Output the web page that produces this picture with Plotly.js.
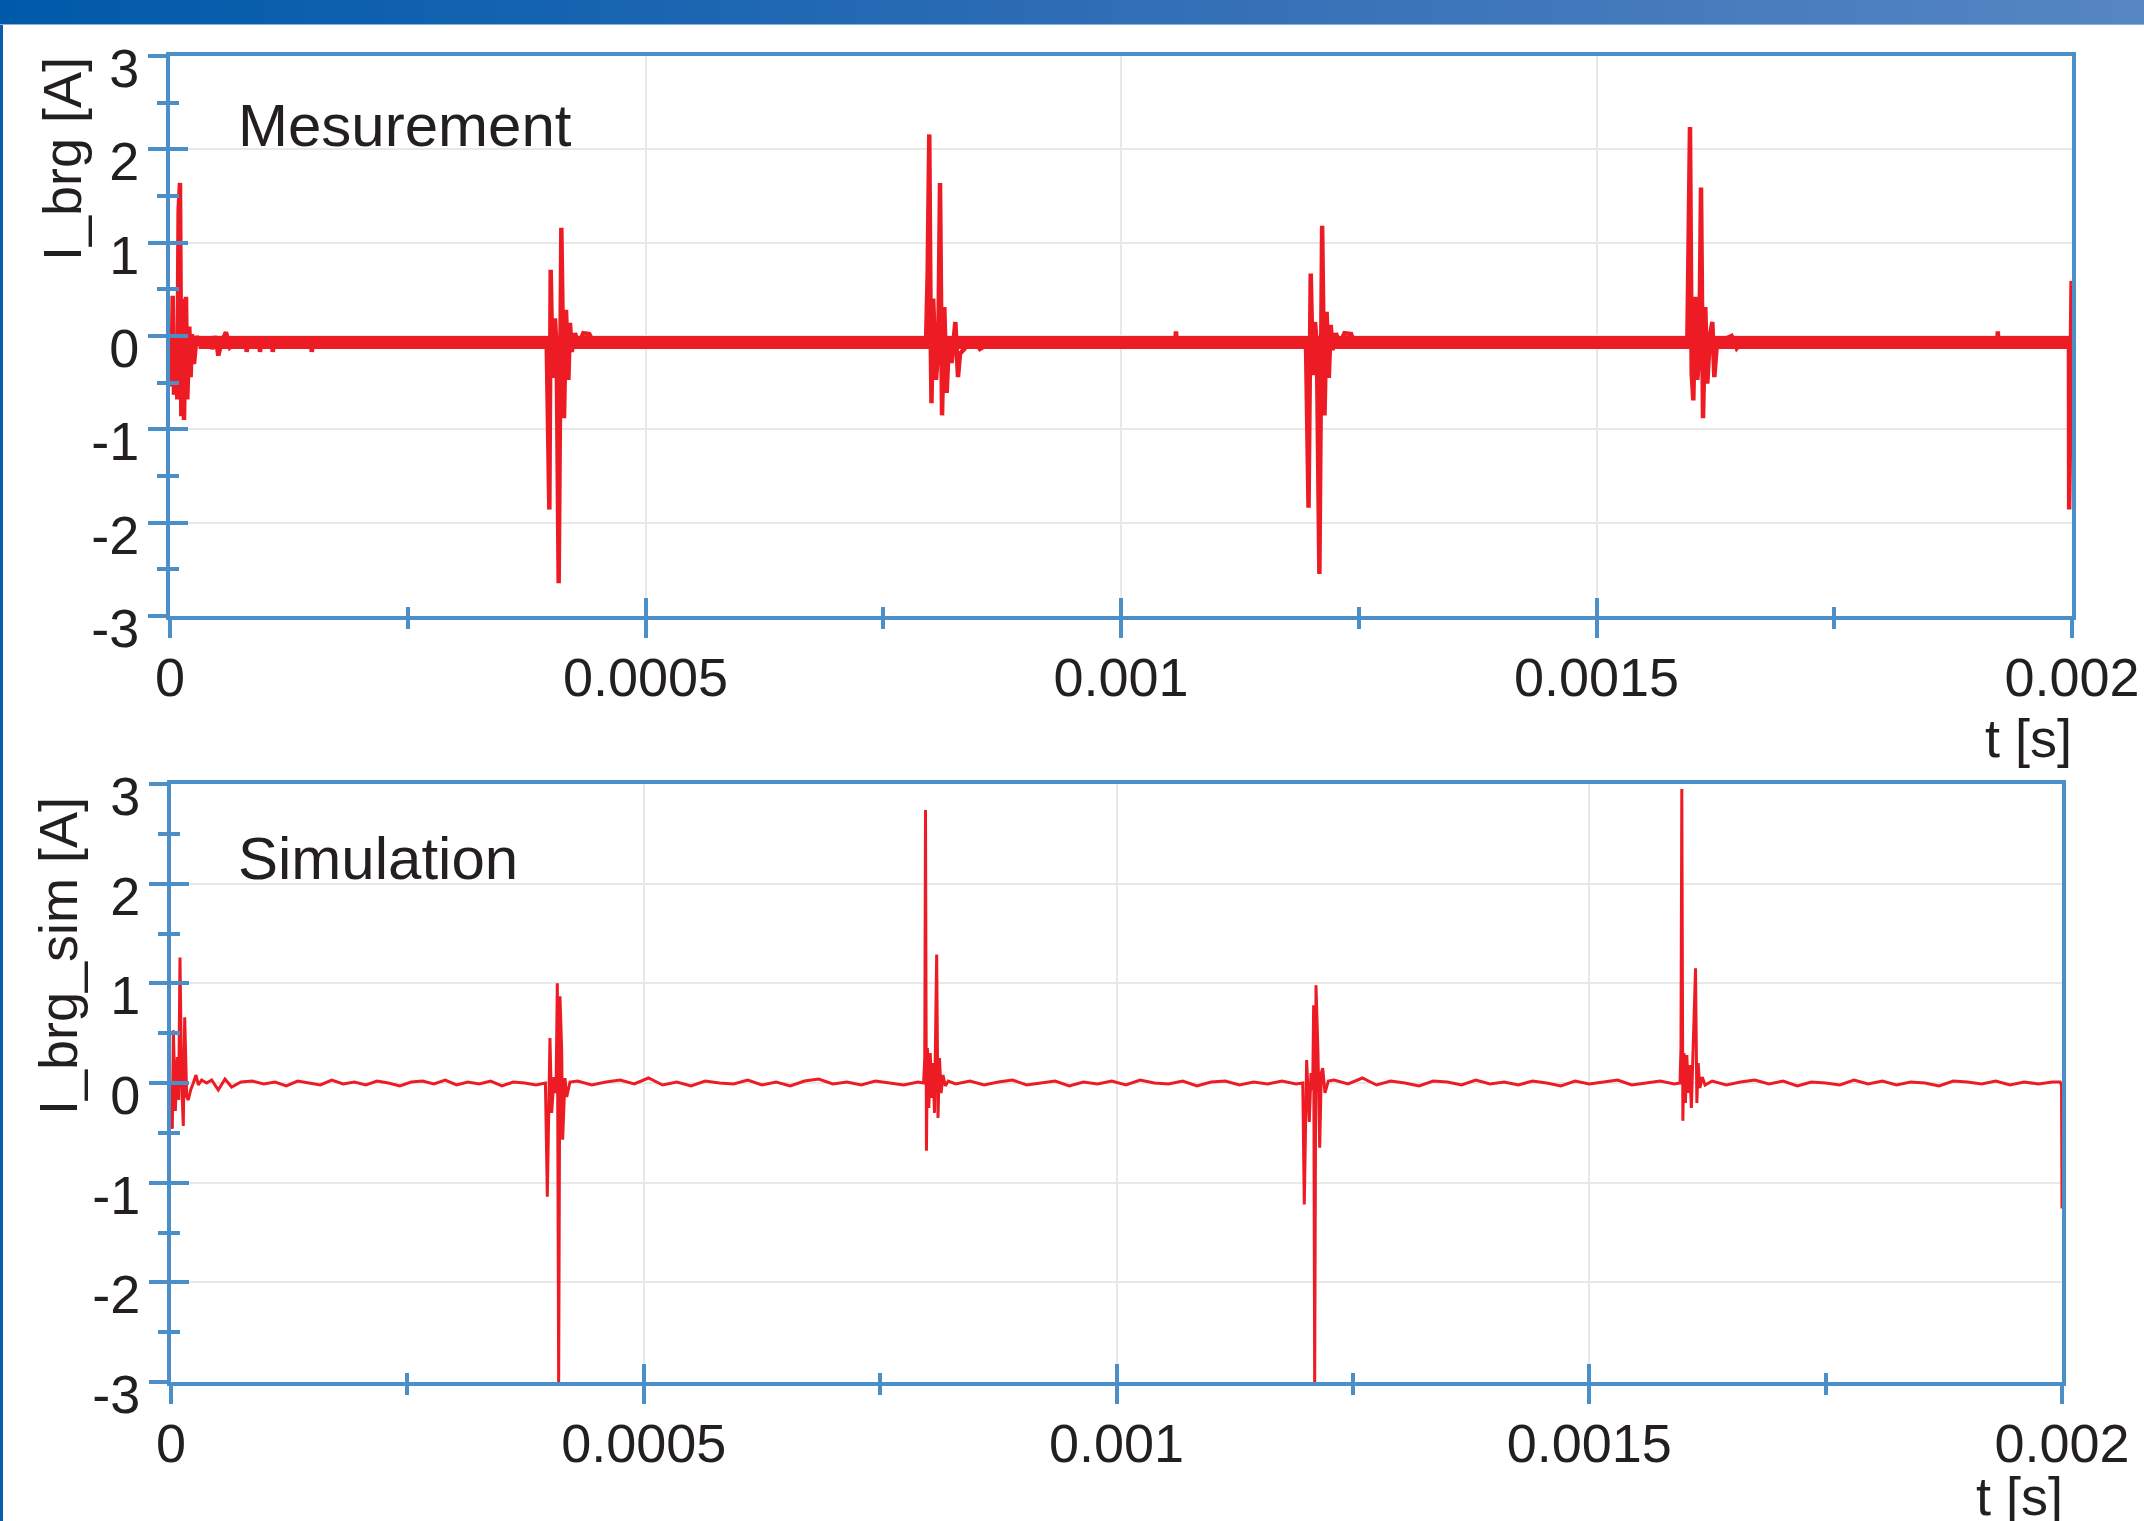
<!DOCTYPE html>
<html>
<head>
<meta charset="utf-8">
<script src="https://cdn.plot.ly/plotly-3.0.1.min.js"></script>
<style>
html,body{margin:0;padding:0;background:#fff;overflow:hidden;}
#chart{width:2144px;height:1521px;}
#banner{position:absolute;left:0;top:0;width:2144px;height:24px;background:linear-gradient(to right,#005AA9 0%,#1463B0 25%,#336FB6 55%,#5686C3 100%);border-bottom:1px solid #8DB0DA;z-index:5;}
#leftbar{position:absolute;left:0;top:25px;width:3px;height:1496px;background:#0A5DAB;z-index:5;}
</style>
</head>
<body>
<div id="banner"></div><div id="leftbar"></div>
<div id="chart"></div>
<script>
// ---------------- DATA ----------------
// Measured bearing current (top panel), t in seconds, I in A
const tMeas = [
  0, 0.0000017, 0.0000028, 0.0000042, 0.0000063, 0.0000077, 0.0000091, 0.0000105, 0.0000119, 0.0000133,
  0.0000147, 0.0000168, 0.0000182, 0.0000203, 0.0000217, 0.0000231, 0.0000252, 0.0000280, 0.0000315, 0.0000350,
  0.0000386, 0.0000420, 0.0000450, 0.0000480, 0.0000508, 0.0000543, 0.0000589, 0.0000630, 0.0000700, 0.0000800,
  0.0000806, 0.0000820, 0.0000940, 0.0000946, 0.0000960, 0.0001074, 0.0001080, 0.0001095, 0.0001484, 0.0001490,
  0.0001505,
  0.0003961, 0.0003989, 0.0004003, 0.0004024, 0.0004048, 0.0004066, 0.0004087, 0.0004115, 0.0004143, 0.0004164,
  0.0004189, 0.0004206, 0.0004224, 0.0004259, 0.0004294, 0.0004346, 0.0004409, 0.0004450,
  0.0007950, 0.0007967, 0.0007984, 0.0007999, 0.0008007, 0.0008025, 0.0008055, 0.0008079, 0.0008097, 0.0008118,
  0.0008142, 0.0008167, 0.0008191, 0.0008219, 0.0008258, 0.0008286, 0.0008307, 0.0008377, 0.0008447, 0.0008517,
  0.0008657, 0.0008700,
  0.0010570, 0.0010578, 0.0010586,
  0.0011945, 0.0011972, 0.0011995, 0.0012018, 0.0012040, 0.0012060, 0.0012086, 0.0012115, 0.0012140, 0.0012162,
  0.0012185, 0.0012205, 0.0012225, 0.0012260, 0.0012300, 0.0012350, 0.0012420, 0.0012450,
  0.0015955, 0.0015966, 0.0015983, 0.0016001, 0.0016018, 0.0016039, 0.0016060, 0.0016081, 0.0016099, 0.0016120,
  0.0016144, 0.0016165, 0.0016193, 0.0016218, 0.0016239, 0.0016264, 0.0016334, 0.0016421, 0.0016474, 0.0016544,
  0.0016600,
  0.0019215, 0.0019220, 0.0019225,
  0.0019968, 0.0019970, 0.0019996, 0.0020000
];
const iMeas = [
  -0.05, -0.54, 0.43, -0.63, -0.05, -0.68, 1.35, 1.64, -0.86, 0.40,
  -0.90, 0.42, -0.68, 0.10, -0.44, 0.02, -0.30, 0.00, -0.10, -0.02,
  -0.12, -0.04, -0.14, 0.00, -0.21, -0.06, 0.04, -0.12, -0.05, -0.07,
  -0.17, -0.07, -0.07, -0.17, -0.07, -0.07, -0.17, -0.07, -0.07, -0.17,
  -0.07,
  -0.07, -1.86, 0.71, -0.45, 0.19, -0.14, -2.65, 1.16, -0.88, 0.28,
  -0.47, 0.14, -0.17, 0.03, -0.10, 0.03, 0.02, -0.07,
  -0.07, 0.67, 2.16, 0.00, -0.72, 0.40, -0.47, -0.11, 1.64, -0.85,
  0.31, -0.61, -0.04, -0.29, 0.15, -0.44, -0.19, -0.11, -0.04, -0.14,
  -0.05, -0.07,
  -0.07, 0.05, -0.07,
  -0.07, -1.84, 0.67, -0.42, 0.15, -0.12, -2.55, 1.18, -0.85, 0.26,
  -0.45, 0.12, -0.15, 0.03, -0.09, 0.03, 0.02, -0.07,
  -0.07, 0.81, 2.24, -0.40, -0.69, 0.42, -0.47, -0.19, 1.59, -0.88,
  0.31, -0.51, 0.00, 0.15, -0.44, -0.11, -0.04, 0.00, -0.13, -0.04,
  -0.07,
  -0.07, 0.05, -0.07,
  -0.07, -1.86, 0.59, 0.55
];
// Dense measurement noise band (envelope of the fast ripple)
const tBand = [0.000030, 0.0019968];
const bandHi = [0.00, 0.00];
const bandLo = [-0.14, -0.14];

// Simulated bearing current (bottom panel)
const tSim = [
  0, 0.0000014, 0.0000025, 0.0000046, 0.0000067, 0.0000081, 0.0000095, 0.0000113, 0.0000130, 0.0000145,
  0.0000166, 0.0000183, 0.0000208, 0.0000236, 0.0000264, 0.0000289, 0.0000324, 0.0000377, 0.0000430, 0.0000500,
  0.0000571, 0.0000641, 0.0000740,
  0.000086, 0.000098, 0.000110, 0.000122, 0.000134, 0.000146, 0.000158, 0.000170, 0.000182, 0.000194,
  0.000206, 0.000218, 0.000230, 0.000242, 0.000254, 0.000266, 0.000278, 0.000290, 0.000302, 0.000314,
  0.000326, 0.000338, 0.000350, 0.000362, 0.000374, 0.000386,
  0.0003960, 0.0003980, 0.0004008, 0.0004026, 0.0004051, 0.0004072, 0.0004086, 0.0004100, 0.0004114, 0.0004132,
  0.0004142, 0.0004167, 0.0004185, 0.0004220,
  0.000430, 0.000445, 0.000460, 0.000475, 0.000490, 0.000505, 0.000520, 0.000535, 0.000550, 0.000565,
  0.000580, 0.000595, 0.000610, 0.000625, 0.000640, 0.000655, 0.000670, 0.000685, 0.000700, 0.000715,
  0.000730, 0.000745, 0.000760, 0.000775, 0.000790,
  0.0007960, 0.0007972, 0.0007980, 0.0007990, 0.0008000, 0.0008015, 0.0008030, 0.0008045, 0.0008060, 0.0008075,
  0.0008098, 0.0008112, 0.0008128, 0.0008145, 0.0008165, 0.0008190, 0.0008220,
  0.000830, 0.000845, 0.000860, 0.000875, 0.000890, 0.000905, 0.000920, 0.000935, 0.000950, 0.000965,
  0.000980, 0.000995, 0.001010, 0.001025, 0.001040, 0.001055, 0.001070, 0.001085, 0.001100, 0.001115,
  0.001130, 0.001145, 0.001160, 0.001175, 0.001190,
  0.0011970, 0.0011986, 0.0012011, 0.0012039, 0.0012057, 0.0012075, 0.0012085, 0.0012096, 0.0012110, 0.0012131,
  0.0012149, 0.0012166, 0.0012181, 0.0012205, 0.0012240,
  0.001230, 0.001245, 0.001260, 0.001275, 0.001290, 0.001305, 0.001320, 0.001335, 0.001350, 0.001365,
  0.001380, 0.001395, 0.001410, 0.001425, 0.001440, 0.001455, 0.001470, 0.001485, 0.001500, 0.001515,
  0.001530, 0.001545, 0.001560, 0.001575, 0.001590,
  0.0015960, 0.0015970, 0.0015979, 0.0015990, 0.0016002, 0.0016017, 0.0016032, 0.0016047, 0.0016062, 0.0016080,
  0.0016124, 0.0016138, 0.0016152, 0.0016170, 0.0016195, 0.0016225,
  0.001630, 0.001645, 0.001660, 0.001675, 0.001690, 0.001705, 0.001720, 0.001735, 0.001750, 0.001765,
  0.001780, 0.001795, 0.001810, 0.001825, 0.001840, 0.001855, 0.001870, 0.001885, 0.001900, 0.001915,
  0.001930, 0.001945, 0.001960, 0.001975, 0.001990,
  0.0019980, 0.0019995, 0.0020000
];
const iSim = [
  0.00, -0.46, 0.53, -0.28, 0.26, -0.17, 1.26, 0.00, -0.43, 0.66,
  -0.14, -0.17, -0.07, 0.00, 0.08, -0.02, 0.03, 0.00, 0.03, -0.07,
  0.04, -0.04, 0.01,
  0.02, -0.01, 0.01, -0.03, 0.02, 0.00, -0.02, 0.03, -0.01, 0.01,
  -0.02, 0.02, 0.00, -0.03, 0.01, 0.02, -0.01, 0.03, -0.02, 0.01,
  -0.01, 0.02, -0.03, 0.01, 0.00, -0.02,
  0.00, -1.14, 0.45, -0.30, 0.06, -0.10, 1.00, -3.05, 0.87, 0.33,
  -0.57, 0.05, -0.14, 0.01,
  0.02, -0.02, 0.01, 0.03, -0.01, 0.05, -0.02, 0.01, -0.03, 0.02,
  0.00, -0.01, 0.03, -0.02, 0.01, -0.03, 0.02, 0.04, -0.01, 0.01,
  -0.02, 0.02, 0.00, -0.02, 0.01,
  0.00, 0.25, 2.74, -0.68, 0.35, -0.25, 0.30, -0.15, 0.20, -0.30,
  1.29, -0.35, 0.25, -0.10, 0.08, -0.03, 0.02,
  -0.01, 0.02, -0.02, 0.01, 0.03, -0.02, 0.00, 0.02, -0.03, 0.01,
  -0.01, 0.02, -0.02, 0.03, 0.00, -0.01, 0.02, -0.03, 0.01, 0.02,
  -0.02, 0.01, -0.01, 0.02, -0.01,
  0.00, -1.22, 0.23, -0.39, 0.10, -0.07, 0.78, -3.05, 0.98, 0.30,
  -0.65, 0.10, 0.15, -0.10, 0.02,
  0.03, -0.01, 0.05, -0.02, 0.02, 0.00, -0.03, 0.02, 0.01, -0.02,
  0.03, -0.01, 0.01, -0.02, 0.02, 0.00, -0.03, 0.02, -0.01, 0.01,
  0.03, -0.02, 0.00, 0.02, -0.01,
  0.00, 0.35, 2.95, -0.38, 0.30, -0.20, 0.28, -0.10, 0.18, -0.25,
  1.15, -0.20, 0.20, -0.05, 0.06, -0.02,
  0.02, -0.02, 0.01, 0.03, -0.01, 0.02, -0.03, 0.01, 0.00, -0.02,
  0.03, -0.01, 0.02, -0.02, 0.01, 0.00, -0.03, 0.02, 0.01, -0.01,
  0.02, -0.02, 0.01, -0.01, 0.01,
  0.01, -0.02, -1.26
];

// Axis ticks and labels
const xTickVals = [0, 0.0005, 0.001, 0.0015, 0.002];
const xTickText = ['0', '0.0005', '0.001', '0.0015', '0.002'];
const xMinorVals = [0.00025, 0.00075, 0.00125, 0.00175];
const yTickVals = [-3, -2, -1, 0, 1, 2, 3];
const yTickText = ['-3', '-2', '-1', '0', '1', '2', '3'];
const yMinorVals = [-2.5, -1.5, -0.5, 0.5, 1.5, 2.5];

const panelLabels = ['Mesurement', 'Simulation'];
const yTitles = ['I_brg [A]', 'I_brg_sim [A]'];
const xTitle = 't [s]';

// ---------------- STYLE ----------------
const W = 2144, H = 1521;
const RED = '#ED1C24';
const AX = '#4A8FC8';
const TXT = '#231F20';
const FONT = 'Liberation Sans, Arial, Helvetica, sans-serif';
const px = v => v / W;
const py = v => 1 - v / H;

const topDomX = [px(170), px(2072)], topDomY = [py(616), py(56)];
const botDomX = [px(171), px(2062)], botDomY = [py(1382), py(784)];

function mainX(domain, anchor) {
  return {
    domain: domain, anchor: anchor, range: [0, 0.002], fixedrange: true,
    tickmode: 'array', tickvals: xTickVals, ticktext: xTickText,
    ticks: 'outside', ticklen: 18, tickwidth: 4, tickcolor: AX,
    showline: true, linecolor: AX, linewidth: 4, mirror: true,
    showgrid: true, gridcolor: '#E8E8E8', gridwidth: 2, zeroline: false,
    tickfont: {family: FONT, size: 54, color: TXT}, ticklabelstandoff: -7,
    minor: {tickmode: 'array', tickvals: xMinorVals, ticks: 'outside', ticklen: 9, tickwidth: 4, tickcolor: AX, showgrid: false}
  };
}
function mainY(domain, anchor) {
  return {
    domain: domain, anchor: anchor, range: [-3, 3], fixedrange: true,
    tickmode: 'array', tickvals: yTickVals, ticktext: yTickText,
    ticks: 'outside', ticklen: 18, tickwidth: 4, tickcolor: AX,
    showline: true, linecolor: AX, linewidth: 4, mirror: true,
    showgrid: true, gridcolor: '#E8E8E8', gridwidth: 2, zeroline: false,
    tickfont: {family: FONT, size: 54, color: TXT}, ticklabelstandoff: -2, ticklabelshift: 12,
    minor: {tickmode: 'array', tickvals: yMinorVals, ticks: 'outside', ticklen: 9, tickwidth: 4, tickcolor: AX, showgrid: false}
  };
}
function overX(over, anchor) {
  return {
    overlaying: over, anchor: anchor, range: [0, 0.002], fixedrange: true,
    tickmode: 'array', tickvals: xTickVals, ticks: 'inside', ticklen: 18, tickwidth: 4, tickcolor: AX,
    showline: false, showgrid: false, zeroline: false, showticklabels: false,
    minor: {tickmode: 'array', tickvals: xMinorVals, ticks: 'inside', ticklen: 9, tickwidth: 4, tickcolor: AX, showgrid: false}
  };
}
function overY(over, anchor) {
  return {
    overlaying: over, anchor: anchor, range: [-3, 3], fixedrange: true,
    tickmode: 'array', tickvals: yTickVals, ticks: 'inside', ticklen: 18, tickwidth: 4, tickcolor: AX,
    showline: false, showgrid: false, zeroline: false, showticklabels: false,
    minor: {tickmode: 'array', tickvals: yMinorVals, ticks: 'inside', ticklen: 9, tickwidth: 4, tickcolor: AX, showgrid: false}
  };
}

const traces = [
  {x: tBand, y: bandLo, xaxis: 'x', yaxis: 'y', mode: 'lines', line: {width: 0, color: RED}, hoverinfo: 'skip', showlegend: false},
  {x: tBand, y: bandHi, xaxis: 'x', yaxis: 'y', mode: 'lines', line: {width: 0, color: RED}, fill: 'tonexty', fillcolor: RED, hoverinfo: 'skip', showlegend: false},
  {x: tMeas, y: iMeas, xaxis: 'x', yaxis: 'y', mode: 'lines', line: {width: 4.5, color: RED, simplify: false}, showlegend: false},
  {x: tSim, y: iSim, xaxis: 'x2', yaxis: 'y2', mode: 'lines', line: {width: 3, color: RED, simplify: false}, showlegend: false},
  {x: [], y: [], xaxis: 'x3', yaxis: 'y3', mode: 'lines', showlegend: false},
  {x: [], y: [], xaxis: 'x4', yaxis: 'y4', mode: 'lines', showlegend: false}
];

const annFont = {family: FONT, size: 60, color: TXT};
const axFont = {family: FONT, size: 54, color: TXT};
const layout = {
  width: W, height: H, margin: {l: 0, r: 0, t: 0, b: 0},
  paper_bgcolor: '#FFFFFF', plot_bgcolor: '#FFFFFF', showlegend: false,
  xaxis: mainX(topDomX, 'y'), yaxis: mainY(topDomY, 'x'),
  xaxis2: mainX(botDomX, 'y2'), yaxis2: mainY(botDomY, 'x2'),
  xaxis3: overX('x', 'y3'), yaxis3: overY('y', 'x3'),
  xaxis4: overX('x2', 'y4'), yaxis4: overY('y2', 'x4'),
  annotations: [
    {text: panelLabels[0], xref: 'paper', yref: 'paper', x: px(236), y: py(126), xanchor: 'left', yanchor: 'middle', showarrow: false, font: annFont},
    {text: panelLabels[1], xref: 'paper', yref: 'paper', x: px(236), y: py(858), xanchor: 'left', yanchor: 'middle', showarrow: false, font: annFont},
    {text: yTitles[0], xref: 'paper', yref: 'paper', x: px(62), y: py(159), xanchor: 'center', yanchor: 'middle', textangle: -90, showarrow: false, font: axFont},
    {text: yTitles[1], xref: 'paper', yref: 'paper', x: px(58), y: py(956), xanchor: 'center', yanchor: 'middle', textangle: -90, showarrow: false, font: axFont},
    {text: xTitle, xref: 'paper', yref: 'paper', x: px(2074), y: py(738), xanchor: 'right', yanchor: 'middle', showarrow: false, font: axFont},
    {text: xTitle, xref: 'paper', yref: 'paper', x: px(2065), y: py(1496), xanchor: 'right', yanchor: 'middle', showarrow: false, font: axFont}
  ]
};

Plotly.newPlot('chart', traces, layout, {staticPlot: true, displayModeBar: false});
</script>
</body>
</html>
